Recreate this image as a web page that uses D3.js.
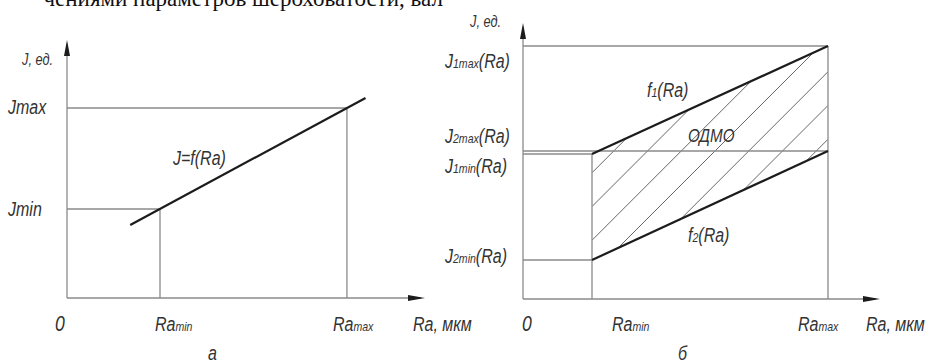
<!DOCTYPE html>
<html>
<head>
<meta charset="utf-8">
<script src="https://cdn.jsdelivr.net/npm/d3@7"></script>
<style>
  body { margin: 0; background: #fff; }
  svg { display: block; }
  .lbl { font-family: "Liberation Sans", Arial, sans-serif; font-style: italic; fill: #333; }
</style>
</head>
<body>
<div id="chart"></div>
<script>
// values are in arbitrary units
const raLeft = [1.0, 3.01];              // Ra_min, Ra_max
const jLeft = [0.89, 1.9];               // J_min, J_max
const lineLeft = [[0.68, 0.73], [3.21, 2.0]]; // J = f(Ra), end points

const raRight = [1.0, 4.42];             // Ra_min, Ra_max
const j1Right = [1.45, 2.53];            // J1_min, J1_max  -> f1(Ra)
const j2Right = [0.39, 1.48];            // J2_min, J2_max  -> f2(Ra)

const W = 931, H = 364;
const thin = "#8a8a8a", thick = "#1c1c1c";

const svg = d3.select("#chart").append("svg").attr("width", W).attr("height", H);

// cut-off line of the page text above the figure
svg.append("text")
  .attr("x", 443).attr("y", 6)
  .attr("text-anchor", "end")
  .attr("font-family", "Liberation Serif, serif")
  .attr("font-size", 23)
  .attr("fill", "#111")
  .text("чениями параметров шероховатости, вал");

// helper: label made of [text, small] parts, squeezed like a drafting font
const label = (x, y, parts, size = 20) => {
  const g = svg.append("g").attr("transform", `translate(${x},${y}) scale(0.8,1)`);
  const t = g.append("text").attr("class", "lbl").attr("font-size", size);
  parts.forEach(([s, small]) => {
    t.append("tspan").attr("font-size", small ? size * 0.66 : size).text(s);
  });
  return t;
};

const line = (x1, y1, x2, y2, color, w) =>
  svg.append("line")
    .attr("x1", x1).attr("y1", y1).attr("x2", x2).attr("y2", y2)
    .attr("stroke", color).attr("stroke-width", w);

const axes = (x, y, xEnd, yEnd) => {
  line(x, y, xEnd - 4, y, thin, 1.3);
  line(x, y, x, yEnd + 4, thin, 1.3);
  svg.append("path")
    .attr("d", `M${xEnd},${y} L${xEnd - 17},${y - 3} L${xEnd - 17},${y + 3} Z`)
    .attr("fill", thick);
  svg.append("path")
    .attr("d", `M${x},${yEnd} L${x - 3},${yEnd + 16} L${x + 3},${yEnd + 16} Z`)
    .attr("fill", thick);
};

// ---------- chart a ----------
const xL = d3.scaleLinear().domain([0, 1]).range([67, 160]);
const yL = d3.scaleLinear().domain([0, 1]).range([298, 198]);

axes(xL(0), yL(0), 425, 40);

line(xL(0), yL(jLeft[0]), xL(raLeft[0]), yL(jLeft[0]), thin, 1.3);
line(xL(0), yL(jLeft[1]), xL(raLeft[1]), yL(jLeft[1]), thin, 1.3);
line(xL(raLeft[0]), yL(0), xL(raLeft[0]), yL(jLeft[0]), thin, 1.3);
line(xL(raLeft[1]), yL(0), xL(raLeft[1]), yL(jLeft[1]), thin, 1.3);

svg.append("path")
  .datum(lineLeft)
  .attr("d", d3.line().x(d => xL(d[0])).y(d => yL(d[1])))
  .attr("stroke", thick).attr("stroke-width", 2.2).attr("fill", "none");

label(22, 65, [["J, ед."]], 16);
label(8, 114, [["Jmax"]]);
label(8, 216, [["Jmin"]]);
label(55, 331, [["0"]], 22);
label(155, 331, [["Ra"], ["min", true]]);
label(333, 331, [["Ra"], ["max", true]]);
label(413, 331, [["Ra, мкм"]]);
label(173, 165, [["J=f(Ra)"]]);
label(208, 360, [["а"]]);

// ---------- chart б ----------
const xR = d3.scaleLinear().domain([0, 1]).range([523, 592]);
const yR = d3.scaleLinear().domain([0, 1]).range([299, 199]);

// hatched region between f1 and f2
const region = [
  [raRight[0], j1Right[0]], [raRight[1], j1Right[1]],
  [raRight[1], j2Right[1]], [raRight[0], j2Right[0]]
];
svg.append("clipPath").attr("id", "odmo")
  .append("polygon")
  .attr("points", region.map(d => [xR(d[0]), yR(d[1])].join(",")).join(" "));

const hx0 = xR(raRight[0]), hx1 = xR(raRight[1]);
svg.append("g").attr("clip-path", "url(#odmo)")
  .selectAll("line")
  .data(d3.range(731, 1010, 33.75))
  .join("line")
  .attr("x1", hx0).attr("y1", c => c - hx0)
  .attr("x2", hx1).attr("y2", c => c - hx1)
  .attr("stroke", "#555").attr("stroke-width", 0.9);

axes(xR(0), yR(0), 880, 23);

line(xR(0), yR(j1Right[1]), xR(raRight[1]), yR(j1Right[1]), thin, 1.3);
line(xR(0), yR(j2Right[1]), xR(raRight[1]), yR(j2Right[1]), thin, 1.3);
line(xR(0), yR(j1Right[0]), xR(raRight[0]), yR(j1Right[0]), thin, 1.3);
line(xR(0), yR(j2Right[0]), xR(raRight[0]), yR(j2Right[0]), thin, 1.3);
line(xR(raRight[0]), yR(0), xR(raRight[0]), yR(j1Right[0]), thin, 1.3);
line(xR(raRight[1]), yR(0), xR(raRight[1]), yR(j1Right[1]), thin, 1.3);

const fLine = d3.line().x(d => xR(d[0])).y(d => yR(d[1]));
[j1Right, j2Right].forEach(j => {
  svg.append("path")
    .datum([[raRight[0], j[0]], [raRight[1], j[1]]])
    .attr("d", fLine)
    .attr("stroke", thick).attr("stroke-width", 2.2).attr("fill", "none");
});

label(470, 27, [["J, ед."]], 16);
label(445, 68, [["J"], ["1max", true], ["(Ra)"]]);
label(445, 143, [["J"], ["2max", true], ["(Ra)"]]);
label(445, 173, [["J"], ["1min", true], ["(Ra)"]]);
label(445, 263, [["J"], ["2min", true], ["(Ra)"]]);
label(522, 331, [["0"]], 22);
label(612, 331, [["Ra"], ["min", true]]);
label(798, 331, [["Ra"], ["max", true]]);
label(866, 331, [["Ra, мкм"]]);
label(647, 97, [["f"], ["1", true], ["(Ra)"]]);
label(688, 142, [["ОДМО"]], 19);
label(688, 242, [["f"], ["2", true], ["(Ra)"]]);
label(678, 360, [["б"]]);
</script>
</body>
</html>
